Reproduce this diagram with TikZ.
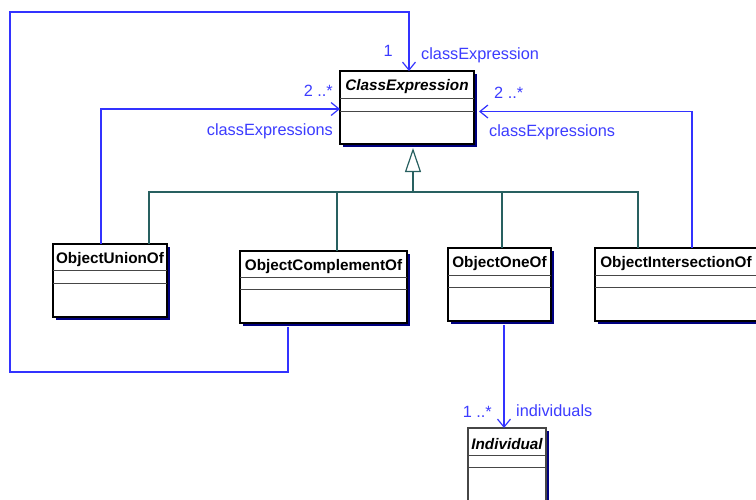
\documentclass[tikz,border=0pt]{standalone}
\usepackage{fontspec}
\setmainfont{Liberation Sans}
\usetikzlibrary{arrows.meta,shadows,calc}
\definecolor{assocc}{RGB}{51,51,255}
\definecolor{labc}{RGB}{60,60,255}
\definecolor{genc}{RGB}{40,96,96}
\definecolor{shadowc}{RGB}{0,0,128}
\definecolor{divc}{RGB}{70,70,70}
\newcommand\umlclass[9][black]{%
  \node[cls, draw=#1, minimum width=#5pt, minimum height=#6pt] (#2) at (#3,#4) {};
  \draw[divl] ($(#2.north west)+(0,#7)$) -- ($(#2.north east)+(0,#7)$);
  \draw[divl] ($(#2.north west)+(0,#8)$) -- ($(#2.north east)+(0,#8)$);
  \node[titl] (#2-t) at ($(#2.north)+(0,#7/2+2.5)$) {#9};
}
\begin{document}
\begin{tikzpicture}[x=1pt,y=-1pt,
  cls/.style={line width=1.2pt, fill=white, anchor=north west, inner sep=0pt, outer sep=0pt,
    drop shadow={shadow xshift=3pt, shadow yshift=-3pt, fill=shadowc, opacity=1}},
  divl/.style={draw=divc, line width=1pt},
  titl/.style={inner sep=0pt, font=\fontsize{15.3}{17}\selectfont\bfseries},
  genline/.style={draw=genc, line width=1.2pt},
  assoc/.style={draw=assocc, line width=1.2pt},
  navarrow/.style={-{Straight Barb[length=8pt,width=13pt]}},
  lab/.style={inner sep=0pt, text=labc, font=\fontsize{16.3}{18}\selectfont}]
\useasboundingbox[fill=white] (0,0) rectangle (756,499);

\umlclass{ce}{340}{71}{134}{73}{27}{40}{\itshape ClassExpression}
\umlclass{union}{53}{244}{114}{73}{26}{39}{ObjectUnionOf}
\umlclass{comp}{240}{251}{167}{72}{26}{38}{ObjectComplementOf}
\umlclass{oneof}{448}{248}{103}{73}{27}{39}{ObjectOneOf}
\umlclass{inter}{595}{248}{162}{73}{27}{39}{ObjectIntersectionOf}
\umlclass[divc]{indiv}{468}{428}{78}{100}{27}{39}{\itshape Individual}

% generalization tree
\coordinate (gj) at (413,192);
\coordinate (gs1) at ($(union.north west)+(96,0)$);
\coordinate (gs2) at ($(comp.north west)+(97,0)$);
\coordinate (gs3) at ($(oneof.north west)+(54,0)$);
\coordinate (gs4) at ($(inter.north west)+(43,0)$);
\draw[genline] (gs1) |- (gj) -| (gs4);
\draw[genline] (gs2) -- (gs2 |- gj);
\draw[genline] (gs3) -- (gs3 |- gj);
\draw[genline, -{Triangle[open, length=24pt, width=16pt, fill=white]}, shorten >=4pt] (gj) -- (gj |- ce.south);

% associations
\coordinate (u1) at ($(union.north west)+(48,0)$);
\draw[assoc, navarrow] (u1) |- ($(ce.west)+(0,1.5)$);
\coordinate (i1) at ($(inter.north west)+(97,0)$);
\draw[assoc, navarrow] (i1) |- ($(ce.east)+(5,4)$);
\coordinate (c1) at ($(comp.south west)+(48,4)$);
\coordinate (lb) at (10,372);
\coordinate (ct) at ($(ce.north)+(2,0)$);
\coordinate (lt) at (10,12);
\draw[assoc, navarrow] (c1) |- (lb) -- (lt) -| (ct);
\coordinate (o1) at ($(oneof.south west)+(56,4)$);
\draw[assoc, navarrow] (o1) -- (o1 |- indiv.north);

% labels
\node[lab, anchor=east] (l1) at (393,51) {1};
\node[lab, anchor=west] (l2) at (421,55) {classExpression};
\node[lab, anchor=east] (l3) at (333,91) {2 ..*};
\node[lab, anchor=east] (l4) at (333,131) {classExpressions};
\node[lab, anchor=west] (l5) at (494,93) {2 ..*};
\node[lab, anchor=west] (l6) at (489,132) {classExpressions};
\node[lab, anchor=east] (l7) at (492,412) {1 ..*};
\node[lab, anchor=west] (l8) at (516,411) {individuals};
\end{tikzpicture}
\end{document}
